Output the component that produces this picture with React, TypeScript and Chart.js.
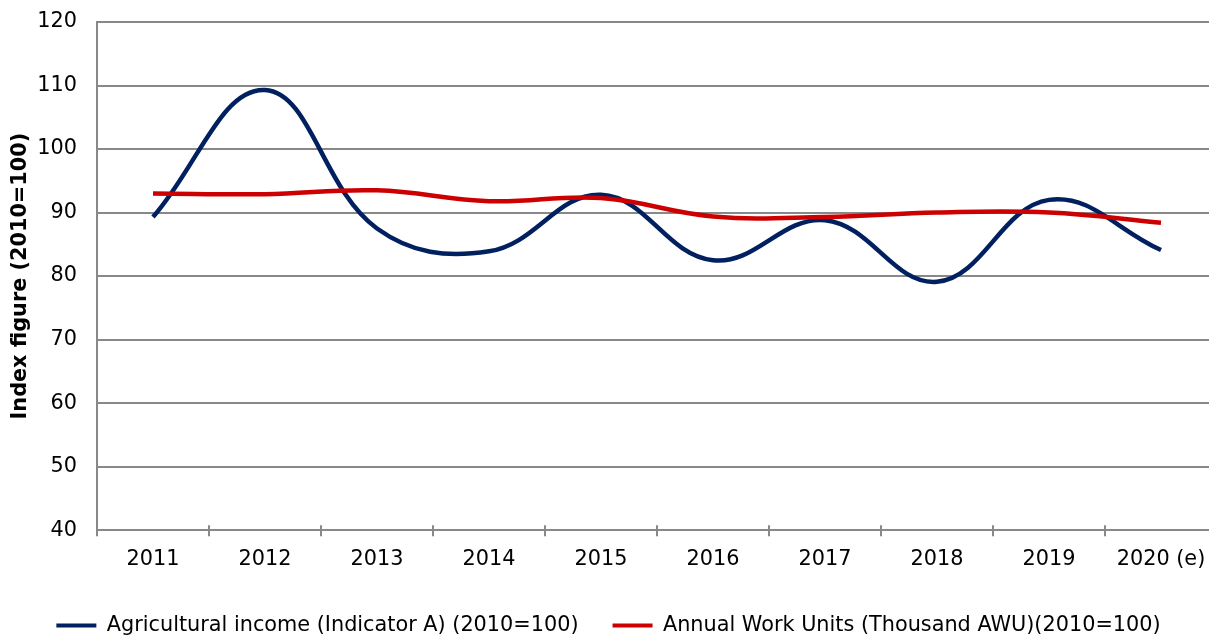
import { useEffect, useRef } from "react";
import { Chart, registerables } from "chart.js";

Chart.register(...registerables);

const categories = ["2011", "2012", "2013", "2014", "2015", "2016", "2017", "2018", "2019", "2020 (e)"];
const agriculturalIncome = [89.3, 109.3, 87.5, 83.9, 92.8, 82.5, 88.8, 79.1, 92.0, 84.1];
const annualWorkUnits = [93.0, 92.9, 93.5, 91.8, 92.3, 89.4, 89.3, 90.0, 90.0, 88.4];
const seriesLabels = [
  "Agricultural income (Indicator A) (2010=100)",
  "Annual Work Units (Thousand AWU)(2010=100)",
];
const yMin = 40;
const yMax = 120;
const yStep = 10;
const yTitle = "Index figure (2010=100)";

const FONT = "'DejaVu Sans', Verdana, sans-serif";
const FS = 20.8;
const GRID = "#888888";
const CANVAS_W = 1240;
const CANVAS_H = 646;

const crossTicks = {
  id: "crossTicks",
  afterDraw(chart: any) {
    const x = chart.scales.x;
    const ctx = chart.ctx;
    const bottom = chart.chartArea.bottom;
    ctx.save();
    ctx.strokeStyle = GRID;
    ctx.lineWidth = 2;
    for (let i = 1; i < categories.length; i++) {
      const px = Math.round((x.getPixelForTick(i - 1) + x.getPixelForTick(i)) / 2);
      ctx.beginPath();
      ctx.moveTo(px, bottom - 5);
      ctx.lineTo(px, bottom);
      ctx.stroke();
    }
    ctx.restore();
  },
};

export default function App() {
  const ref = useRef<HTMLCanvasElement>(null);
  useEffect(() => {
    const chart = new Chart(ref.current as HTMLCanvasElement, {
      type: "line",
      data: {
        labels: categories,
        datasets: [
          {
            label: seriesLabels[0],
            data: agriculturalIncome,
            borderColor: "#002060",
            backgroundColor: "#002060",
            borderWidth: 4.5,
            pointRadius: 0,
            tension: 0.4,
            order: 1,
          },
          {
            label: seriesLabels[1],
            data: annualWorkUnits,
            borderColor: "#cc0000",
            backgroundColor: "#cc0000",
            borderWidth: 4.5,
            pointRadius: 0,
            tension: 0.4,
            order: 0,
          },
        ],
      },
      options: {
        responsive: false,
        animation: false,
        devicePixelRatio: 1,
        layout: { padding: { top: 22, right: 23, left: 0, bottom: 0 } },
        plugins: {
          tooltip: { enabled: false },
          legend: {
            position: "bottom",
            labels: {
              font: { family: FONT, size: FS },
              color: "#000",
              boxWidth: 40,
              boxHeight: 4,
              padding: 34,
              sort: (a: any, b: any) => a.datasetIndex - b.datasetIndex,
              generateLabels: (c: any) =>
                (Chart.defaults.plugins.legend.labels.generateLabels as any)(c).map((l: any) => ({
                  ...l,
                  fillStyle: l.strokeStyle,
                  lineWidth: 0,
                })),
            },
          },
        },
        scales: {
          x: {
            offset: true,
            grid: {
              offset: true,
              drawOnChartArea: false,
              drawTicks: true,
              tickLength: 6,
              color: GRID,
              lineWidth: 2,
            },
            border: { color: GRID, width: 2 },
            ticks: {
              font: { family: FONT, size: FS },
              color: "#000",
              padding: 11,
              maxRotation: 0,
              autoSkip: false,
            },
            afterFit: (s: any) => {
              s.height = 51;
            },
          },
          y: {
            min: yMin,
            max: yMax,
            ticks: {
              stepSize: yStep,
              font: { family: FONT, size: FS },
              color: "#000",
              padding: 20,
            },
            grid: { color: GRID, lineWidth: 2, drawTicks: false },
            border: { color: GRID, width: 2 },
            title: {
              display: true,
              text: yTitle,
              font: { family: FONT, size: FS, weight: "bold" },
              color: "#000",
              padding: { top: 8, bottom: 0 },
            },
            afterFit: (s: any) => {
              s.width = 97;
              s.paddingTop = 0;
              s.paddingBottom = 0;
            },
          },
        },
      } as any,
      plugins: [crossTicks],
    });
    return () => chart.destroy();
  }, []);
  return (
    <div
      style={{
        position: "absolute",
        left: 0,
        top: 0,
        width: 1209,
        height: 638,
        overflow: "hidden",
        background: "#fff",
      }}
    >
      <canvas
        ref={ref}
        width={CANVAS_W}
        height={CANVAS_H}
        style={{ display: "block", width: CANVAS_W, height: CANVAS_H }}
      />
    </div>
  );
}
